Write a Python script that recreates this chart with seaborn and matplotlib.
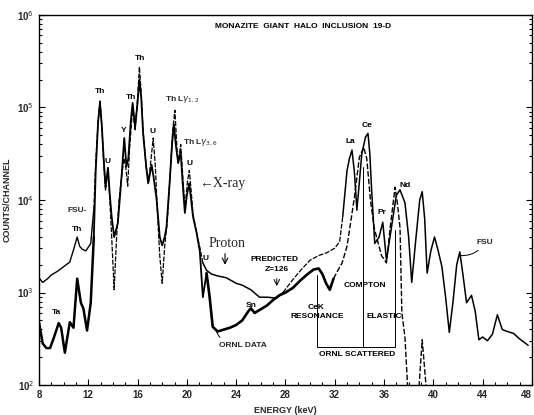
import numpy as np
import pandas as pd
import matplotlib
matplotlib.use("Agg")
import matplotlib.pyplot as plt
import seaborn as sns

# ---------------- data (energy keV, log10 counts/channel) ----------------
fsu_kev = [8.0, 8.3, 8.7, 9.0, 9.5, 10.0, 10.5, 10.8, 11.1, 11.3, 11.5, 11.8, 12.2,
           12.45, 12.6, 12.8, 12.95, 13.1, 13.25, 13.4, 13.6, 13.75, 13.9, 14.1, 14.3,
           14.5, 14.7, 14.9, 15.05, 15.2, 15.35, 15.6, 15.8, 16.0, 16.15, 16.3, 16.45,
           16.7, 16.9, 17.1, 17.27, 17.45, 17.6, 17.8, 18.0, 18.2, 18.4, 18.6, 18.85,
           19.03, 19.2, 19.3, 19.5, 19.65, 19.85, 20.05, 20.2, 20.35, 20.5, 20.8, 21.05,
           21.3, 21.6, 22.0, 22.5, 23.2, 24.0, 24.5, 25.2, 25.9, 26.5, 27.3, 27.8, 28.6,
           29.3, 30.0, 30.7, 31.35, 32.0, 32.4, 32.65, 33.0, 33.2, 33.4, 33.6, 33.8, 34.2,
           34.5, 34.7, 34.85, 35.0, 35.25, 35.6, 35.9, 36.2, 36.6, 37.0, 37.3, 37.7, 38.0,
           38.25, 38.6, 38.9, 39.1, 39.3, 39.5, 39.8, 40.1, 40.4, 40.7, 41.0, 41.3, 41.6,
           41.9, 42.15, 42.4, 42.7, 43.1, 43.4, 43.7, 44.0, 44.4, 44.8, 45.2, 45.6, 46.0,
           46.5, 47.0, 47.7]
fsu_log10 = [3.16, 3.11, 3.15, 3.19, 3.23, 3.28, 3.33, 3.46, 3.60, 3.50, 3.47, 3.45, 3.53,
             3.90, 4.40, 4.85, 5.08, 4.80, 4.40, 4.10, 4.33, 4.00, 3.60, 3.03, 3.60,
             4.00, 4.25, 4.45, 4.35, 4.15, 4.55, 5.00, 4.75, 5.10, 5.44, 5.15, 4.75,
             4.36, 4.20, 4.45, 4.67, 4.35, 3.90, 3.40, 3.10, 3.50, 3.75, 4.18, 4.75,
             4.97, 4.55, 4.40, 4.60, 4.30, 3.90, 4.20, 4.32, 4.10, 3.85, 3.64, 3.49,
             3.32, 3.24, 3.20, 3.18, 3.16, 3.10, 3.08, 3.03, 2.95, 2.95, 2.94, 3.00, 3.14,
             3.25, 3.35, 3.40, 3.43, 3.48, 3.55, 3.82, 4.32, 4.45, 4.54, 4.30, 3.89, 4.50,
             4.68, 4.72, 4.50, 4.10, 3.53, 3.60, 3.76, 3.35, 3.70, 4.05, 4.11, 3.97, 3.60,
             3.11, 3.60, 4.00, 4.09, 3.80, 3.21, 3.45, 3.60, 3.45, 3.28, 2.95, 2.57, 2.90,
             3.30, 3.44, 3.20, 2.89, 2.97, 2.80, 2.49, 2.52, 2.48, 2.55, 2.76, 2.60, 2.58,
             2.56, 2.50, 2.43]

ornl_kev = [8.0, 8.3, 8.6, 8.9, 9.2, 9.6, 9.8, 10.1, 10.5, 10.8, 11.1, 11.4, 11.6, 11.9,
            12.2, 12.45, 12.6, 12.8, 12.95, 13.1, 13.25, 13.4, 13.6, 13.75, 13.9, 14.1,
            14.4, 14.7, 14.92, 15.1, 15.25, 15.45, 15.6, 15.8, 16.0, 16.15, 16.3, 16.45,
            16.7, 16.86, 17.0, 17.14, 17.3, 17.55, 17.8, 18.0, 18.2, 18.35, 18.6, 18.8,
            18.95, 19.1, 19.3, 19.5, 19.65, 19.84, 20.0, 20.19, 20.35, 20.5, 20.8, 21.05,
            21.3, 21.6, 21.85, 22.1, 22.5, 23.0, 23.5, 24.0, 24.5, 25.0, 25.2, 25.5,
            26.0, 26.5, 27.0, 27.5, 28.0, 28.6, 29.2, 29.8, 30.3, 30.7, 31.0, 31.3, 31.6,
            31.9, 32.3, 32.6, 33.0, 33.6, 34.0, 34.35, 34.6, 34.9, 35.2, 35.5, 35.8, 36.2,
            36.5, 36.9, 37.1, 37.3, 37.45, 37.7, 37.95, 38.8, 39.1, 39.5]
ornl_log10 = [2.68, 2.45, 2.40, 2.40, 2.51, 2.67, 2.62, 2.35, 2.68, 2.62, 3.15, 2.89, 2.83, 2.59,
              2.89, 3.60, 4.30, 4.85, 5.05, 4.80, 4.45, 4.14, 4.35, 4.05, 3.82, 3.60,
              3.75, 4.25, 4.67, 4.36, 4.45, 4.85, 5.05, 4.79, 5.05, 5.30, 5.10, 4.72,
              4.36, 4.18, 4.28, 4.38, 4.25, 4.00, 3.60, 3.51, 3.60, 3.71, 4.18, 4.60,
              4.82, 4.60, 4.40, 4.52, 4.20, 3.86, 4.05, 4.18, 4.00, 3.82, 3.64, 3.45,
              2.95, 3.21, 2.95, 2.63, 2.58, 2.60, 2.62, 2.65, 2.70, 2.80, 2.83, 2.78,
              2.82, 2.86, 2.92, 2.97, 3.00, 3.05, 3.13, 3.20, 3.25, 3.26, 3.20, 3.10, 3.03,
              3.15, 3.25, 3.32, 3.50, 4.03, 4.46, 4.57, 4.45, 4.00, 3.70, 3.55, 3.40, 3.32,
              3.70, 4.14, 3.95, 3.70, 2.78, 2.52, 1.90, 1.90, 2.49, 1.85]

x_ticks = [8, 12, 16, 20, 24, 28, 32, 36, 40, 44, 48]
y_ticks = [1e2, 1e3, 1e4, 1e5, 1e6]
y_tick_labels = ["10$^{2}$", "10$^{3}$", "10$^{4}$", "10$^{5}$", "10$^{6}$"]

fsu = pd.DataFrame({"keV": fsu_kev, "counts": 10 ** np.array(fsu_log10)})
ornl = pd.DataFrame({"keV": ornl_kev, "counts": 10 ** np.array(ornl_log10)})

# ---------------- figure ----------------
sns.set_style("ticks")
plt.rcParams["font.family"] = ["Liberation Sans", "DejaVu Sans"]
fig = plt.figure(figsize=(5.34, 4.15), dpi=100)
ax = fig.add_axes([0.073, 0.072, 0.923, 0.892])
ax.set_yscale("log")

kw = dict(ax=ax, x="keV", y="counts", color="black", sort=False, estimator=None)
# FSU: solid at low energy, dashed through the peaks, solid background, dashed rise, solid peaks
sns.lineplot(data=fsu[fsu.keV <= 12.45], lw=1.0, **kw)
sns.lineplot(data=fsu[(fsu.keV >= 12.45) & (fsu.keV <= 21.3)], lw=0.9,
             linestyle=(0, (4, 1.2)), **kw)
sns.lineplot(data=fsu[(fsu.keV >= 21.3) & (fsu.keV <= 27.8)], lw=1.1, **kw)
sns.lineplot(data=fsu[(fsu.keV >= 27.8) & (fsu.keV <= 32.65)], lw=0.9,
             linestyle=(0, (4, 1.2)), **kw)
sns.lineplot(data=fsu[fsu.keV >= 32.65], lw=1.1, **kw)
# ORNL: solid (heavy) until the CeK region, dashed afterwards
sns.lineplot(data=ornl[ornl.keV <= 12.45], lw=1.8, **kw)
sns.lineplot(data=ornl[(ornl.keV >= 12.45) & (ornl.keV <= 21.6)], lw=1.3, **kw)
sns.lineplot(data=ornl[(ornl.keV >= 21.6) & (ornl.keV <= 31.9)], lw=1.9, **kw)
sns.lineplot(data=ornl[ornl.keV >= 31.9], lw=1.0, linestyle=(0, (4, 1.5)), **kw)

ax.set_xlim(8, 48)
ax.set_ylim(1e2, 1e6)
ax.set_xticks(x_ticks)
ax.set_xticklabels([str(v) for v in x_ticks])
ax.set_xticks(np.arange(8, 49, 1), minor=True)
ax.set_yticks(y_ticks)
ax.set_yticklabels(y_tick_labels)
ax.tick_params(which="both", direction="in", right=True, top=False,
               labelsize=7, width=0.8, color="black")
ax.tick_params(which="major", length=4)
ax.tick_params(which="minor", length=2)
for lab in ax.get_xticklabels() + ax.get_yticklabels():
    lab.set_fontweight("bold")
ax.get_xticklabels()[-1].set_horizontalalignment("right")
for s in ax.spines.values():
    s.set_linewidth(1.0)
    s.set_color("black")
ax.set_xlabel("ENERGY (keV)", fontsize=6.5, fontweight="bold", labelpad=4)
ax.set_ylabel("COUNTS/CHANNEL", fontsize=6.5, fontweight="bold", labelpad=4)

lab = dict(fontsize=6, fontweight="bold", ha="center", va="center", color="black")
ax.text(29.4, 10 ** 5.87, "MONAZITE  GIANT  HALO  INCLUSION  19-D", **lab)
ax.text(12.95, 10 ** 5.17, "Th", **lab)
ax.text(13.6, 10 ** 4.42, "U", **lab)
ax.text(14.9, 10 ** 4.75, "Y", **lab)
ax.text(15.45, 10 ** 5.11, "Th", **lab)
ax.text(16.2, 10 ** 5.53, "Th", **lab)
ax.text(17.25, 10 ** 4.74, "U", **lab)
ax.text(18.2, 10 ** 5.08, "Th L$\\gamma_{1,2}$", fontsize=6, fontweight="bold",
        ha="left", va="center")
ax.text(19.7, 10 ** 4.62, "Th L$\\gamma_{3,6}$", fontsize=6, fontweight="bold",
        ha="left", va="center")
ax.text(20.25, 10 ** 4.40, "U", **lab)
ax.text(21.0, 10 ** 4.18, "←X-ray", fontsize=10, ha="left", va="center",
        family=["Liberation Serif", "DejaVu Serif"])
ax.text(11.1, 10 ** 3.89, "FSU-", fontsize=6, fontweight="bold", ha="center", va="center")
ax.text(11.1, 10 ** 3.68, "Th", **lab)
ax.text(9.45, 10 ** 2.78, "Ta", **lab)
ax.text(23.3, 10 ** 3.53, "Proton", fontsize=10, ha="center", va="center",
        family=["Liberation Serif", "DejaVu Serif"])
ax.annotate("", xy=(23.1, 10 ** 3.27), xytext=(23.1, 10 ** 3.45),
            arrowprops=dict(arrowstyle="->", lw=0.8, color="black"))
ax.text(27.1, 10 ** 3.36, "PREDICTED", **lab)
ax.text(27.3, 10 ** 3.25, "Z=126", **lab)
ax.annotate("", xy=(27.3, 10 ** 3.04), xytext=(27.3, 10 ** 3.18),
            arrowprops=dict(arrowstyle="->", lw=0.7, color="black"))
ax.text(21.55, 10 ** 3.37, "U", **lab)
ax.text(25.2, 10 ** 2.86, "Sn", **lab)
ax.annotate("ORNL DATA", xy=(22.3, 10 ** 2.61), xytext=(22.6, 10 ** 2.43),
            fontsize=6, fontweight="bold", ha="left", va="center",
            arrowprops=dict(arrowstyle="-", lw=0.7, color="black",
                            connectionstyle="arc3,rad=-0.4", shrinkA=1, shrinkB=0))
ax.text(30.5, 10 ** 2.84, "CeK", **lab)
ax.text(30.6, 10 ** 2.74, "RESONANCE", **lab)
ax.text(34.45, 10 ** 3.08, "COMPTON", **lab)
ax.text(36.0, 10 ** 2.74, "ELASTIC", **lab)
ax.text(33.8, 10 ** 2.33, "ORNL SCATTERED", **lab)
ax.text(33.3, 10 ** 4.63, "La", **lab)
ax.text(34.6, 10 ** 4.80, "Ce", **lab)
ax.text(35.8, 10 ** 3.86, "Pr", **lab)
ax.text(37.7, 10 ** 4.16, "Nd", **lab)
ax.annotate("FSU", xy=(42.2, 10 ** 3.40), xytext=(43.5, 10 ** 3.54),
            fontsize=6, fontweight="bold", ha="left", va="center",
            arrowprops=dict(arrowstyle="-", lw=0.7, color="black",
                            connectionstyle="arc3,rad=-0.3", shrinkA=1, shrinkB=0))

# ORNL scattered bracket
bot = 10 ** 2.41
ax.plot([30.55, 30.55, 36.9, 36.9], [10 ** 3.19, bot, bot, 10 ** 3.68],
        color="black", lw=0.7)
ax.plot([34.3, 34.3], [bot, 10 ** 4.36], color="black", lw=0.7)

fig.savefig("out.png", dpi=100)
